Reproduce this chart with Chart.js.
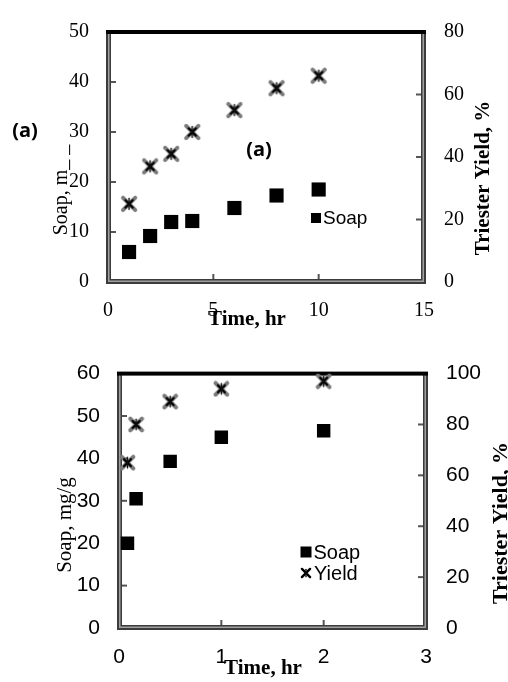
<!DOCTYPE html>
<html lang="en">
<head>
    <meta charset="UTF-8">
    <title>Soap and Triester Yield vs Time</title>
    <script src="https://cdn.jsdelivr.net/npm/chart.js"></script>
    <style>
        body {
            margin: 0;
            background-color: #ffffff;
        }
        .panel {
            position: absolute;
            left: 0;
            width: 508px;
            height: 341px;
        }
        #panelA { top: 0; }
        #panelB { top: 341px; }
    </style>
</head>
<body>
    <div class="panel" id="panelA"><canvas id="chartA"></canvas></div>
    <div class="panel" id="panelB"><canvas id="chartB"></canvas></div>

    <script>
        // Panel (a): long run, hours
        const timeA = [1, 2, 3, 4, 6, 8, 10];
        const soapA = [6.0, 9.2, 12.0, 12.2, 14.8, 17.3, 18.5];
        const yieldA = [25, 37, 41, 48, 55, 62, 66];

        // Panel (b): short run, hours
        const timeB = [0.083, 0.167, 0.5, 1, 2];
        const soapB = [20, 30.5, 39.3, 45, 46.5];
        const yieldB = [65, 80, 89, 94, 97];

        const serif = 'Liberation Serif';
        const sans = 'Liberation Sans';

        // Star marker: grey X with a dark centre and a short vertical stroke
        function makeStar(size, dark) {
            const c = document.createElement('canvas');
            c.width = size;
            c.height = size;
            const g = c.getContext('2d');
            const m = size / 2;
            const a = size * 0.34;
            g.lineCap = 'round';
            g.strokeStyle = dark ? '#000' : '#7a7a7a';
            g.lineWidth = dark ? 2.4 : 4;
            g.beginPath();
            g.moveTo(m - a, m - a); g.lineTo(m + a, m + a);
            g.moveTo(m + a, m - a); g.lineTo(m - a, m + a);
            g.stroke();
            if (!dark) {
                const b = a * 0.6;
                g.strokeStyle = '#000';
                g.lineWidth = 2.2;
                g.beginPath();
                g.moveTo(m - b, m - b); g.lineTo(m + b, m + b);
                g.moveTo(m + b, m - b); g.lineTo(m - b, m + b);
                g.stroke();
            }
            g.strokeStyle = '#111';
            g.lineWidth = 1.4;
            g.beginPath();
            g.moveTo(m, m - a * 0.9); g.lineTo(m, m + a * 0.9);
            g.stroke();
            return c;
        }

        function toPoints(xs, ys) {
            return xs.map((x, i) => ({ x: x, y: ys[i] }));
        }

        // Frame box: dark grey double border on three sides
        function drawBox(ctx, a) {
            const h = a.bottom - a.top;
            const w = a.right - a.left;
            ctx.fillStyle = '#3c3c3c';
            ctx.fillRect(a.left - 2, a.top, 5, h + 2);
            ctx.fillRect(a.right - 3, a.top, 5, h + 2);
            ctx.fillRect(a.left - 2, a.bottom - 3, w + 4, 5);
            ctx.fillStyle = '#a0a0a0';
            ctx.fillRect(a.left, a.top, 1.5, h - 1);
            ctx.fillRect(a.right - 1.5, a.top, 1.5, h - 1);
            ctx.fillRect(a.left, a.bottom - 1.5, w, 1.5);
        }

        // Small inward tick marks on all three axes
        function drawTicks(ctx, a, scales) {
            ctx.fillStyle = '#555';
            scales.y.ticks.forEach(t => {
                if (t.value <= scales.y.min || t.value >= scales.y.max) return;
                const py = scales.y.getPixelForValue(t.value);
                ctx.fillRect(a.left + 3, py - 1, 5, 2);
            });
            scales.y2.ticks.forEach(t => {
                if (t.value <= scales.y2.min || t.value >= scales.y2.max) return;
                const py = scales.y2.getPixelForValue(t.value);
                ctx.fillRect(a.right - 8, py - 1, 5, 2);
            });
            scales.x.ticks.forEach(t => {
                if (t.value <= scales.x.min || t.value >= scales.x.max) return;
                const px = scales.x.getPixelForValue(t.value);
                ctx.fillRect(px - 1, a.bottom - 8, 2, 5);
            });
        }

        const framePlugin = {
            id: 'frame',
            beforeDatasetsDraw(chart) {
                const { ctx, chartArea: a, scales } = chart;
                ctx.save();
                drawBox(ctx, a);
                drawTicks(ctx, a, scales);
                ctx.fillStyle = '#000';
                ctx.fillRect(a.left - 2, a.top - 2, a.right - a.left + 4, 4);
                ctx.restore();
            }
        };

        // Axis titles, panel labels and the small legend
        const notesPlugin = {
            id: 'notes',
            afterDraw(chart, args, opts) {
                const ctx = chart.ctx;
                ctx.save();
                ctx.fillStyle = '#000';
                (opts.texts || []).forEach(t => {
                    ctx.save();
                    ctx.font = t.font;
                    ctx.textAlign = 'center';
                    ctx.textBaseline = 'middle';
                    ctx.translate(t.x, t.y);
                    if (t.rotate) ctx.rotate(-Math.PI / 2);
                    ctx.fillText(t.text, 0, 0);
                    ctx.restore();
                });
                (opts.legend || []).forEach(item => {
                    const ds = chart.data.datasets[item.dataset];
                    if (ds.pointStyle === 'rect') {
                        ctx.fillStyle = '#000';
                        ctx.fillRect(item.x - item.size / 2, item.y - item.size / 2, item.size, item.size);
                    } else {
                        ctx.drawImage(item.marker, item.x - item.size / 2, item.y - item.size / 2, item.size, item.size);
                    }
                    ctx.fillStyle = '#000';
                    ctx.font = item.font;
                    ctx.textAlign = 'left';
                    ctx.textBaseline = 'middle';
                    ctx.fillText(ds.label, item.x + item.size / 2 + 2, item.y + 1);
                });
                ctx.restore();
            }
        };

        function fixWidth(w) { return scale => { scale.width = w; }; }
        function fixHeight(h) { return scale => { scale.height = h; }; }

        function buildChart(id, cfg) {
            const tickFont = { family: cfg.tickFamily, size: cfg.tickSize };
            const hidden = { display: false, drawTicks: false };
            return new Chart(document.getElementById(id), {
                type: 'scatter',
                data: {
                    datasets: [
                        {
                            label: 'Soap',
                            data: toPoints(cfg.time, cfg.soap),
                            yAxisID: 'y',
                            pointStyle: 'rect',
                            radius: cfg.squareRadius,
                            backgroundColor: '#000',
                            borderColor: '#000',
                            borderWidth: 0
                        },
                        {
                            label: 'Yield',
                            data: toPoints(cfg.time, cfg.yield),
                            yAxisID: 'y2',
                            pointStyle: makeStar(cfg.starSize, false),
                            radius: cfg.starSize / 2
                        }
                    ]
                },
                options: {
                    responsive: true,
                    maintainAspectRatio: false,
                    animation: false,
                    layout: { padding: cfg.padding },
                    plugins: {
                        legend: { display: false },
                        tooltip: { enabled: false },
                        notes: { texts: cfg.texts, legend: cfg.legend }
                    },
                    scales: {
                        x: {
                            type: 'linear',
                            min: 0, max: cfg.xMax,
                            grid: hidden,
                            border: { display: false },
                            afterFit: fixHeight(50),
                            ticks: { stepSize: cfg.xStep, padding: 17, color: '#000', font: tickFont }
                        },
                        y: {
                            position: 'left',
                            min: 0, max: cfg.yMax,
                            grid: hidden,
                            border: { display: false },
                            afterFit: fixWidth(60),
                            ticks: { stepSize: 10, padding: 19, color: '#000', font: tickFont }
                        },
                        y2: {
                            position: 'right',
                            min: 0, max: cfg.y2Max,
                            grid: hidden,
                            border: { display: false },
                            afterFit: fixWidth(70),
                            ticks: { stepSize: 20, padding: 20, color: '#000', font: tickFont }
                        }
                    }
                },
                plugins: [framePlugin, notesPlugin]
            });
        }

        buildChart('chartA', {
            time: timeA, soap: soapA, yield: yieldA,
            xMax: 15, xStep: 5, yMax: 50, y2Max: 80,
            tickFamily: serif, tickSize: 20,
            squareRadius: 10, starSize: 18,
            padding: { left: 48, right: 14, top: 16, bottom: 9 },
            texts: [
                { text: '(a)', x: 25, y: 131, font: 'bold 20px "Open Sans"' },
                { text: '(a)', x: 259, y: 150, font: 'bold 20px "Open Sans"' },
                { text: 'Soap, m_ _', x: 62, y: 190, rotate: true, font: '20px ' + serif },
                { text: 'Triester Yield, %', x: 484, y: 178, rotate: true, font: 'bold 21px ' + serif },
                { text: 'Time, hr', x: 247, y: 320, font: 'bold 21px ' + serif }
            ],
            legend: [
                { dataset: 0, x: 316, y: 218, size: 10, font: '19px ' + sans }
            ]
        });

        buildChart('chartB', {
            time: timeB, soap: soapB, yield: yieldB,
            xMax: 3, xStep: 1, yMax: 60, y2Max: 100,
            tickFamily: sans, tickSize: 21,
            squareRadius: 9.5, starSize: 17,
            padding: { left: 59, right: 12, top: 28, bottom: 4 },
            texts: [
                { text: 'Soap, mg/g', x: 65, y: 184, rotate: true, font: '21px ' + serif },
                { text: 'Triester Yield, %', x: 501, y: 182, rotate: true, font: 'bold 22px ' + serif },
                { text: 'Time, hr', x: 263, y: 328, font: 'bold 21px ' + serif }
            ],
            legend: [
                { dataset: 0, x: 306, y: 211, size: 11, font: '20px ' + sans },
                { dataset: 1, x: 306, y: 232, size: 12, font: '20px ' + sans, marker: makeStar(12, true) }
            ]
        });
    </script>
</body>
</html>
